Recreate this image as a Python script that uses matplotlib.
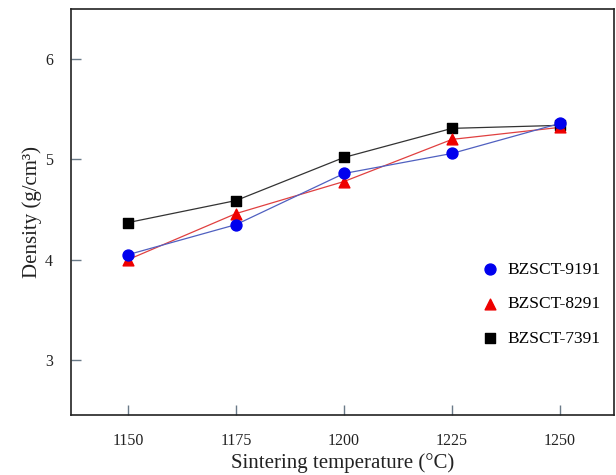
import matplotlib.pyplot as plt

plt.rcParams['font.family'] = ['Liberation Serif', 'DejaVu Serif']

temps = [1150, 1175, 1200, 1225, 1250]
bzsct_9191 = [4.05, 4.35, 4.86, 5.06, 5.36]
bzsct_8291 = [4.00, 4.46, 4.78, 5.20, 5.32]
bzsct_7391 = [4.37, 4.59, 5.02, 5.31, 5.34]

fig = plt.figure(figsize=(6.16, 4.75), dpi=100)
ax = fig.add_axes([0.115, 0.126, 0.882, 0.855])

# black first so blue ends up on top like the original
ax.plot(temps, bzsct_7391, color="#333333", lw=0.9, zorder=1)
ax.plot(temps, bzsct_8291, color="#e04040", lw=0.9, zorder=1)
ax.plot(temps, bzsct_9191, color="#5060c0", lw=0.9, zorder=1)
s_black = ax.scatter(temps, bzsct_7391, marker="s", s=60, color="black", zorder=3)
s_red = ax.scatter(temps, bzsct_8291, marker="^", s=60, color="#ee0000", zorder=4)
s_blue = ax.scatter(temps, bzsct_9191, marker="o", s=62, color="#0000ee", zorder=5)

ax.set_xlim(1136.8, 1262.5)
ax.set_ylim(2.45, 6.5)
ax.set_xticks(temps)
ax.set_yticks([3, 4, 5, 6])
ax.tick_params(direction="in", length=7, width=1, color="#6a7a88",
               labelsize=11.5, labelcolor="#222222", top=False, right=False)
ax.tick_params(axis="x", pad=13)
ax.tick_params(axis="y", pad=13)
for sp in ax.spines.values():
    sp.set_color("#222222")
    sp.set_linewidth(1.2)

ax.set_xlabel("Sintering temperature (°C)", fontsize=15, color="#222222", labelpad=3)
ax.set_ylabel("Density (g/cm³)", fontsize=15, color="#222222", labelpad=2)

ax.legend([s_blue, s_red, s_black], ["BZSCT-9191", "BZSCT-8291", "BZSCT-7391"],
          loc="center left", bbox_to_anchor=(0.74, 0.273), frameon=False,
          fontsize=12.5, handlelength=1, handletextpad=0.5, labelspacing=1.05,
          borderpad=0, scatterpoints=1)

plt.savefig("out.png", dpi=100)
